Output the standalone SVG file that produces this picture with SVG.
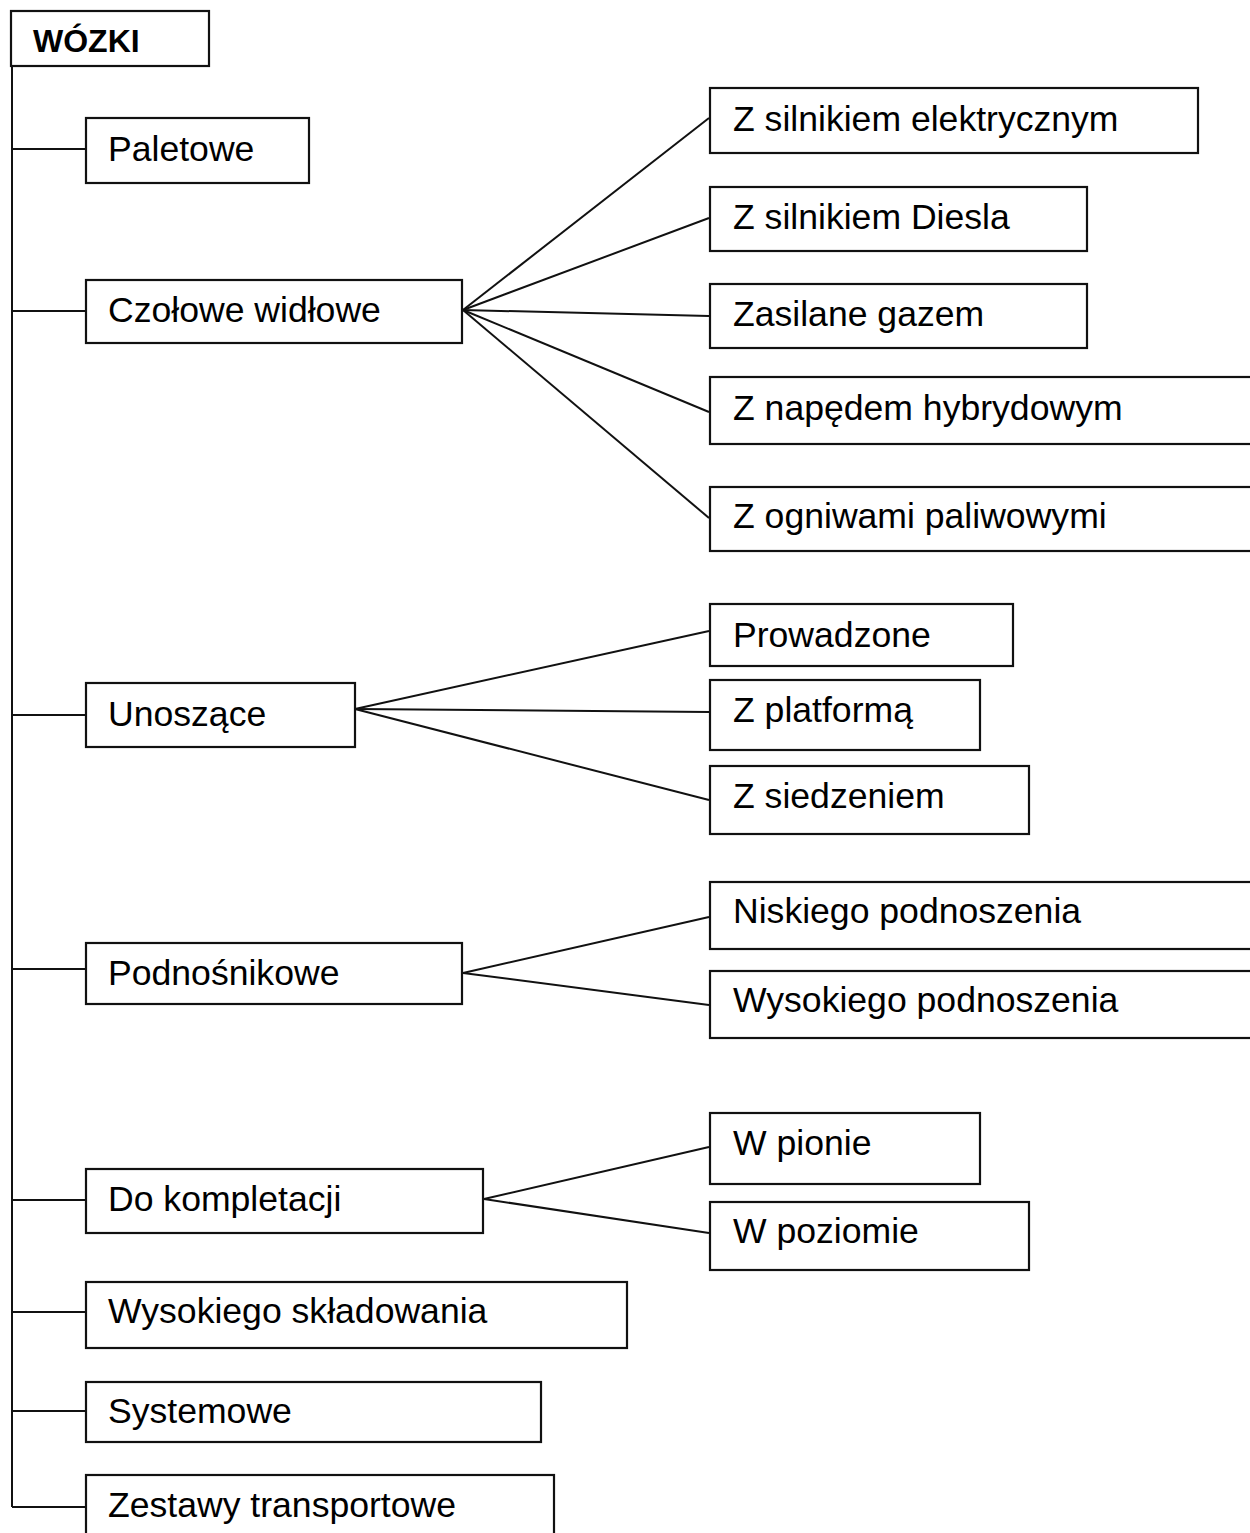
<svg xmlns="http://www.w3.org/2000/svg" width="1250" height="1533" viewBox="0 0 1250 1533">
<style>
.box{fill:#fff;stroke:#111;stroke-width:2.2}
.t{font-family:"Liberation Sans",Arial,sans-serif;font-size:35.6px;fill:#000}
.b{font-family:"Liberation Sans",Arial,sans-serif;font-size:32px;font-weight:bold;fill:#000}
.c{stroke:#111;stroke-width:2;fill:none}
</style>
<rect width="1250" height="1533" fill="#fff"/>
<g id="connectors">
<line class="c" x1="12" y1="66" x2="12" y2="1507"/>
<line class="c" x1="12" y1="149" x2="86" y2="149"/>
<line class="c" x1="12" y1="311" x2="86" y2="311"/>
<line class="c" x1="12" y1="715" x2="86" y2="715"/>
<line class="c" x1="12" y1="969" x2="86" y2="969"/>
<line class="c" x1="12" y1="1200" x2="86" y2="1200"/>
<line class="c" x1="12" y1="1312" x2="86" y2="1312"/>
<line class="c" x1="12" y1="1411" x2="86" y2="1411"/>
<line class="c" x1="12" y1="1507" x2="86" y2="1507"/>
<line class="c" x1="463" y1="310" x2="709" y2="118"/>
<line class="c" x1="463" y1="310" x2="709" y2="218"/>
<line class="c" x1="463" y1="310" x2="709" y2="316"/>
<line class="c" x1="463" y1="310" x2="709" y2="412"/>
<line class="c" x1="463" y1="310" x2="709" y2="518"/>
<line class="c" x1="355" y1="709" x2="709" y2="631"/>
<line class="c" x1="355" y1="709" x2="709" y2="712"/>
<line class="c" x1="355" y1="709" x2="709" y2="800"/>
<line class="c" x1="463" y1="973" x2="709" y2="917"/>
<line class="c" x1="463" y1="973" x2="709" y2="1005"/>
<line class="c" x1="484" y1="1199" x2="709" y2="1147"/>
<line class="c" x1="484" y1="1199" x2="709" y2="1233"/>
</g>
<g id="n-wozki"><rect class="box" x="11" y="11" width="198" height="55"/><text class="b" x="33" y="52">WÓZKI</text></g>
<g id="n-paletowe"><rect class="box" x="86" y="118" width="223" height="65"/><text class="t" x="108" y="161">Paletowe</text></g>
<g id="n-czolowe"><rect class="box" x="86" y="280" width="376" height="63"/><text class="t" x="108" y="322">Czołowe widłowe</text></g>
<g id="n-unoszace"><rect class="box" x="86" y="683" width="269" height="64"/><text class="t" x="108" y="726">Unoszące</text></g>
<g id="n-podnosnikowe"><rect class="box" x="86" y="943" width="376" height="61"/><text class="t" x="108" y="985">Podnośnikowe</text></g>
<g id="n-kompletacji"><rect class="box" x="86" y="1169" width="397" height="64"/><text class="t" x="108" y="1211">Do kompletacji</text></g>
<g id="n-wysokiego-skl"><rect class="box" x="86" y="1282" width="541" height="66"/><text class="t" x="108" y="1323">Wysokiego składowania</text></g>
<g id="n-systemowe"><rect class="box" x="86" y="1382" width="455" height="60"/><text class="t" x="108" y="1423">Systemowe</text></g>
<g id="n-zestawy"><rect class="box" x="86" y="1475" width="468" height="70"/><text class="t" x="108" y="1517">Zestawy transportowe</text></g>
<g id="n-elektr"><rect class="box" x="710" y="88" width="488" height="65"/><text class="t" x="733" y="131">Z silnikiem elektrycznym</text></g>
<g id="n-diesla"><rect class="box" x="710" y="187" width="377" height="64"/><text class="t" x="733" y="229">Z silnikiem Diesla</text></g>
<g id="n-gaz"><rect class="box" x="710" y="284" width="377" height="64"/><text class="t" x="733" y="326">Zasilane gazem</text></g>
<g id="n-hybryd"><rect class="box" x="710" y="377" width="560" height="67"/><text class="t" x="733" y="420">Z napędem hybrydowym</text></g>
<g id="n-ogniwa"><rect class="box" x="710" y="487" width="560" height="64"/><text class="t" x="733" y="528">Z ogniwami paliwowymi</text></g>
<g id="n-prowadzone"><rect class="box" x="710" y="604" width="303" height="62"/><text class="t" x="733" y="647">Prowadzone</text></g>
<g id="n-platforma"><rect class="box" x="710" y="680" width="270" height="70"/><text class="t" x="733" y="722">Z platformą</text></g>
<g id="n-siedzenie"><rect class="box" x="710" y="766" width="319" height="68"/><text class="t" x="733" y="808">Z siedzeniem</text></g>
<g id="n-niskiego"><rect class="box" x="710" y="882" width="560" height="67"/><text class="t" x="733" y="923">Niskiego podnoszenia</text></g>
<g id="n-wysokiego-pod"><rect class="box" x="710" y="971" width="560" height="67"/><text class="t" x="733" y="1012">Wysokiego podnoszenia</text></g>
<g id="n-pionie"><rect class="box" x="710" y="1113" width="270" height="71"/><text class="t" x="733" y="1155">W pionie</text></g>
<g id="n-poziomie"><rect class="box" x="710" y="1202" width="319" height="68"/><text class="t" x="733" y="1243">W poziomie</text></g>
</svg>
